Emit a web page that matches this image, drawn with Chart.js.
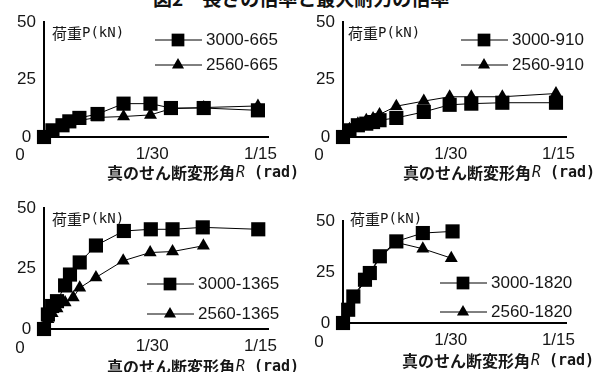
<!DOCTYPE html>
<html>
<head>
<meta charset="utf-8">
<script src="https://cdn.jsdelivr.net/npm/chart.js@4.4.0/dist/chart.umd.min.js"></script>
<style>
body { margin: 0; background: #fff; }
#wrap { position: relative; width: 598px; height: 372px; overflow: hidden; background: #fff; }
.panel { position: absolute; }
#title { position: absolute; left: 153px; top: -16px; font: bold 19px "Noto Sans CJK JP"; white-space: nowrap; color: #111; }
</style>
</head>
<body>
<div id="wrap">
  <div id="title">図2　長さの倍率と最大耐力の倍率</div>
  <canvas id="c1" class="panel" width="299" height="186" style="left:0px;top:0px"></canvas>
  <canvas id="c2" class="panel" width="299" height="186" style="left:299px;top:0px"></canvas>
  <canvas id="c3" class="panel" width="299" height="186" style="left:0px;top:186px"></canvas>
  <canvas id="c4" class="panel" width="299" height="186" style="left:299px;top:186px"></canvas>
</div>
<script>
// 目盛り
var xTicks = [0, 1/30, 1/15];
var xTickLabels = ['0', '1/30', '1/15'];
var yTicks = [0, 25, 50];

// 変形角R (rad) と 荷重P (kN) -- 図から読み取った値
var names665 = ['3000-665', '2560-665'];
var r3000_665 = [0, 0.0026, 0.0057, 0.0078, 0.0109, 0.0165, 0.0245, 0.0328, 0.0391, 0.0492, 0.0659];
var p3000_665 = [0, 2.9, 5.1, 6.8, 8.3, 10.0, 14.5, 14.5, 12.6, 12.6, 11.6];
var r2560_665 = [0, 0.0026, 0.0057, 0.0078, 0.0109, 0.0165, 0.0245, 0.0328, 0.0391, 0.0492, 0.0659];
var p2560_665 = [0, 2.3, 4.3, 5.8, 7.2, 8.5, 8.9, 9.6, 12.3, 12.8, 13.5];

var names910 = ['3000-910', '2560-910'];
var r3000_910 = [0, 0.002, 0.0046, 0.0072, 0.0093, 0.0113, 0.0165, 0.025, 0.033, 0.0397, 0.0493, 0.0659];
var p3000_910 = [0, 2.9, 5.1, 5.8, 6.5, 7.3, 8.3, 10.9, 14.0, 14.5, 14.9, 14.9];
var r2560_910 = [0, 0.002, 0.0046, 0.0072, 0.0093, 0.0113, 0.0165, 0.025, 0.033, 0.0397, 0.0493, 0.0659];
var p2560_910 = [0, 3.4, 5.8, 7.3, 8.0, 9.8, 13.4, 15.6, 17.5, 17.5, 17.5, 18.9];

var names1365 = ['3000-1365', '2560-1365'];
var r3000_1365 = [0, 0.0012, 0.0025, 0.004, 0.0065, 0.008, 0.011, 0.016, 0.0246, 0.0329, 0.0396, 0.0489, 0.066];
var p3000_1365 = [0, 6, 9.5, 11.5, 18, 22.5, 27.5, 34.5, 40.5, 41.2, 41.2, 42, 41.2];
var r2560_1365 = [0, 0.0012, 0.0025, 0.004, 0.0065, 0.009, 0.011, 0.016, 0.0244, 0.0327, 0.0396, 0.0491];
var p2560_1365 = [0, 4, 6.5, 8.5, 11, 13, 17, 21.3, 28.2, 31.6, 32, 34.4];

var names1820 = ['3000-1820', '2560-1820'];
var r3000_1820 = [0, 0.0016, 0.0032, 0.0068, 0.0083, 0.0114, 0.0165, 0.0247, 0.0339];
var p3000_1820 = [0, 6.5, 13, 21.2, 24.5, 32.7, 40, 44.1, 44.9];
var r2560_1820 = [0, 0.0016, 0.0032, 0.0068, 0.0083, 0.0114, 0.0165, 0.0247, 0.0335];
var p2560_1820 = [0, 6, 12.5, 20.5, 24, 32, 39.5, 36.4, 31.8];

var tickFont = { family: 'Liberation Sans', size: 17 };
var textColor = '#161616';

function toPoints(r, p) {
    var pts = [];
    for (var i = 0; i < r.length; i++) {
        pts.push({ x: r[i], y: p[i] });
    }
    return pts;
}

function drawMarker(ctx, style, x, y, r) {
    ctx.beginPath();
    if (style === 'rect') {
        var s = r * Math.SQRT1_2;
        ctx.rect(x - s, y - s, 2 * s, 2 * s);
    } else {
        ctx.moveTo(x, y - r);
        ctx.lineTo(x + r * Math.sqrt(3) / 2, y + r / 2);
        ctx.lineTo(x - r * Math.sqrt(3) / 2, y + r / 2);
        ctx.closePath();
    }
    ctx.fill();
}

// 軸タイトル・凡例・横軸の「0」を描く
var decor = {
    id: 'decor',
    afterDraw: function(chart, args, o) {
        var ctx = chart.ctx;
        var area = chart.chartArea;
        ctx.save();
        ctx.fillStyle = textColor;
        ctx.strokeStyle = '#000';
        ctx.textBaseline = 'middle';

        // 縦軸タイトル
        ctx.textAlign = 'left';
        ctx.font = '15px "Noto Sans CJK JP"';
        ctx.fillText('荷重', o.yTitle[0], o.yTitle[1]);
        var w = ctx.measureText('荷重').width;
        ctx.font = '14px "DejaVu Sans Mono"';
        ctx.fillText('P(kN)', o.yTitle[0] + w, o.yTitle[1]);

        // 横軸の0
        ctx.font = tickFont.size + 'px "' + tickFont.family + '"';
        ctx.textAlign = 'center';
        ctx.fillText(xTickLabels[0], chart.scales.x.getPixelForValue(xTicks[0]) - 24, area.bottom + o.xLabelDy);

        // 横軸タイトル
        var parts = [
            { t: '真のせん断変形角', f: 'bold 16px "Noto Sans CJK JP"', gap: 0 },
            { t: 'R', f: 'italic 15px "DejaVu Sans Mono"', gap: 1 },
            { t: '(rad)', f: 'bold 15px "DejaVu Sans Mono"', gap: 9 }
        ];
        var total = 0;
        parts.forEach(function(p) {
            ctx.font = p.f;
            p.w = ctx.measureText(p.t).width;
            total += p.w + p.gap;
        });
        var x = o.xTitle[0] - total / 2;
        ctx.textAlign = 'left';
        parts.forEach(function(p) {
            x += p.gap;
            ctx.font = p.f;
            ctx.fillText(p.t, x, o.xTitle[1]);
            x += p.w;
        });

        // 凡例
        var ds = chart.data.datasets;
        for (var i = 0; i < ds.length; i++) {
            var ly = o.legend[1] + i * o.legend[2];
            var lx = o.legend[0];
            ctx.lineWidth = 1;
            ctx.beginPath();
            ctx.moveTo(lx, ly);
            ctx.lineTo(lx + 47, ly);
            ctx.stroke();
            ctx.fillStyle = '#000';
            drawMarker(ctx, ds[i].pointStyle, lx + 23, ly, ds[i].pointStyle === 'rect' ? 9 : 7);
            ctx.fillStyle = textColor;
            ctx.font = tickFont.size + 'px "' + tickFont.family + '"';
            ctx.fillText(ds[i].label, lx + 51, ly);
        }
        ctx.restore();
    }
};

function createChart(id, names, rA, pA, rB, pB, box) {
    var canvas = document.getElementById(id);
    var ctx = canvas.getContext('2d');
    var xAxisH = 24;
    new Chart(ctx, {
        type: 'scatter',
        data: {
            datasets: [{
                label: names[0],
                data: toPoints(rA, pA),
                showLine: true,
                borderColor: '#000',
                borderWidth: 1,
                backgroundColor: '#000',
                pointStyle: 'rect',
                pointRadius: 10,
                pointBorderWidth: 0,
                clip: false
            }, {
                label: names[1],
                data: toPoints(rB, pB),
                showLine: true,
                borderColor: '#000',
                borderWidth: 1,
                backgroundColor: '#000',
                pointStyle: 'triangle',
                pointRadius: 7.5,
                pointBorderWidth: 0,
                clip: false
            }]
        },
        options: {
            responsive: false,
            animation: false,
            layout: {
                padding: {
                    left: 0,
                    top: box.top,
                    right: canvas.width - box.right,
                    bottom: canvas.height - box.bottom - xAxisH
                }
            },
            plugins: {
                legend: { display: false },
                tooltip: { enabled: false },
                decor: box
            },
            scales: {
                x: {
                    type: 'linear',
                    min: 0,
                    max: 0.069,
                    afterFit: function(s) { s.height = xAxisH; },
                    afterBuildTicks: function(s) {
                        s.ticks = xTicks.map(function(v) { return { value: v }; });
                    },
                    ticks: {
                        font: tickFont,
                        color: textColor,
                        padding: 7,
                        maxRotation: 0,
                        autoSkip: false,
                        callback: function(v, i) { return i === 0 ? '' : xTickLabels[i]; }
                    },
                    grid: { display: false, drawTicks: false },
                    border: { display: true, color: '#000', width: 2 }
                },
                y: {
                    min: 0,
                    max: 50,
                    afterFit: function(s) { s.width = 44; },
                    afterBuildTicks: function(s) {
                        s.ticks = yTicks.map(function(v) { return { value: v }; });
                    },
                    ticks: {
                        font: tickFont,
                        color: textColor,
                        padding: 8,
                        crossAlign: 'center'
                    },
                    grid: { display: false, drawTicks: false },
                    border: { display: true, color: '#000', width: 2 }
                }
            }
        },
        plugins: [decor]
    });
}

createChart('c1', names665, r3000_665, p3000_665, r2560_665, p2560_665,
    { top: 22, right: 268, bottom: 137, yTitle: [52, 33], xTitle: [203, 173], xLabelDy: 18, legend: [155, 40, 25] });
createChart('c2', names910, r3000_910, p3000_910, r2560_910, p2560_910,
    { top: 22, right: 267, bottom: 137, yTitle: [49, 33], xTitle: [200, 173], xLabelDy: 18, legend: [162, 40, 25] });
createChart('c3', names1365, r3000_1365, p3000_1365, r2560_1365, p2560_1365,
    { top: 22, right: 268, bottom: 143, yTitle: [52, 33], xTitle: [203, 181], xLabelDy: 19, legend: [147, 98, 30] });
createChart('c4', names1820, r3000_1820, p3000_1820, r2560_1820, p2560_1820,
    { top: 35, right: 267, bottom: 137, yTitle: [51, 33], xTitle: [199, 175], xLabelDy: 19, legend: [141, 97, 29] });
</script>
</body>
</html>
